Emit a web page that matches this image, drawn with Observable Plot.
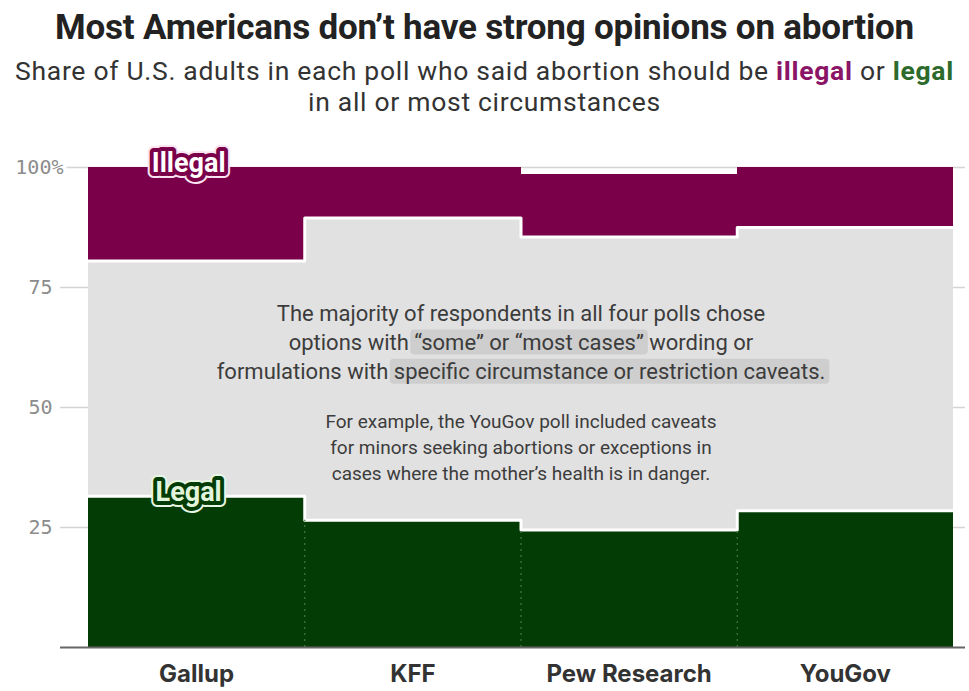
<!DOCTYPE html>
<html>
<head>
<meta charset="utf-8">
<script src="https://cdn.jsdelivr.net/npm/d3@7"></script>
<script src="https://cdn.jsdelivr.net/npm/@observablehq/plot@0.6"></script>
<style>
  body { margin: 0; background: #fff; font-family: Roboto, sans-serif; }
  #header { height: 120px; text-align: center; overflow: hidden; }
  #header h1 { margin: 0; padding-top: 6px; font-size: 35px; line-height: 44px; font-weight: 700; color: #222; letter-spacing: -0.2px; }
  #header .sub { margin: 0; padding-top: 5px; font-size: 26.5px; line-height: 31px; color: #333; letter-spacing: 0.7px; }
  #chart svg { display: block; }
</style>
</head>
<body>
<div id="header">
  <h1>Most Americans don’t have strong opinions on abortion</h1>
  <p class="sub">Share of U.S. adults in each poll who said abortion should be <b style="color:#8a1466">illegal</b> or <b style="color:#2d6b2d">legal</b><br>in all or most circumstances</p>
</div>
<div id="chart"></div>
<script>
// Poll results (percent of U.S. adults)
const polls = ["Gallup", "KFF", "Pew Research", "YouGov"];
const legal = [31.5, 26.5, 24.5, 28.5];      // legal in all or most circumstances
const illegal = [19.5, 10.5, 13, 12.5];      // illegal in all or most circumstances
const noAnswer = [0, 0, 1.5, 0];             // did not answer
const yTicks = [25, 50, 75, 100];

const noteMain = "The majority of respondents in all four polls chose\noptions with “some” or “most cases” wording or\nformulations with specific circumstance or restriction caveats.";
const noteMainMarks = ["“some” or “most cases”", "specific circumstance or restriction caveats."];
const noteExample = "For example, the YouGov poll included caveats\nfor minors seeking abortions or exceptions in\ncases where the mother’s health is in danger.";
const noteY = [64, 42];

const MAGENTA = "#7a0049";
const GREEN = "#033d05";
const GRAY = "#e1e1e1";

const rows = polls.map((poll, i) => ({
  poll,
  i0: i,
  i1: i + 1,
  legal: legal[i],
  top: 100 - noAnswer[i],
  illegalBottom: 100 - noAnswer[i] - illegal[i]
}));

// step outline along one boundary of the stacked columns
const steps = key => rows.flatMap(r => [{x: r.i0, y: r[key]}, {x: r.i1, y: r[key]}]);

const boundaries = rows.slice(1).map((r, k) => ({x: r.i0, y: Math.min(r.legal, rows[k].legal)}));

const chart = Plot.plot({
  width: 969,
  height: 571,
  marginTop: 47,
  marginBottom: 44,
  marginLeft: 60,
  marginRight: 4,
  style: {fontFamily: "Roboto, sans-serif", background: "white"},
  x: {domain: [-0.1295, 4.0555], axis: null},
  y: {domain: [0, 100], axis: null},
  marks: [
    Plot.ruleY(yTicks, {stroke: "#d4d4d4", strokeWidth: 1.5}),
    Plot.rectY(rows, {x1: "i0", x2: "i1", y1: 0, y2: "legal", fill: GREEN, shapeRendering: "crispEdges"}),
    Plot.rectY(rows, {x1: "i0", x2: "i1", y1: "legal", y2: "illegalBottom", fill: GRAY, shapeRendering: "crispEdges"}),
    Plot.rectY(rows, {x1: "i0", x2: "i1", y1: "illegalBottom", y2: "top", fill: MAGENTA, shapeRendering: "crispEdges"}),
    Plot.line(steps("legal"), {x: "x", y: "y", stroke: "white", strokeWidth: 3}),
    Plot.line(steps("illegalBottom"), {x: "x", y: "y", stroke: "white", strokeWidth: 3}),
    Plot.ruleX(boundaries, {x: "x", y1: 0, y2: "y", stroke: "#3f7a3f", strokeDasharray: "2,4", strokeWidth: 1.2}),
    Plot.ruleY([0], {stroke: "#666", strokeWidth: 2}),
    // y tick labels
    Plot.text(yTicks.filter(t => t < 100), {y: d => d, text: d => String(d), frameAnchor: "left", textAnchor: "end", dx: -8,
      fontFamily: "DejaVu Sans Mono", fontSize: 20, fill: "#8c8c8c"}),
    Plot.text(yTicks.filter(t => t === 100), {y: d => d, text: d => d + "%", frameAnchor: "left", textAnchor: "end", dx: 3,
      fontFamily: "DejaVu Sans Mono", fontSize: 20, fill: "#8c8c8c", stroke: "white", strokeWidth: 8, paintOrder: "stroke"}),
    // poll names
    Plot.text(rows, {x: d => d.i0 + 0.5, text: "poll", frameAnchor: "bottom", lineAnchor: "top", dy: 17,
      fontFamily: "Inter, Roboto, sans-serif", fontSize: 24, fontWeight: 700, fill: "#333"}),
    // series labels on the first column
    Plot.text([rows[0]], {x: d => d.i0 + 0.5, y: "top", text: () => "Illegal", dx: -8, dy: -4,
      fontSize: 27, fontWeight: 700, fill: "none", stroke: "#fbe3f2", strokeWidth: 12, strokeLinejoin: "round"}),
    Plot.text([rows[0]], {x: d => d.i0 + 0.5, y: "top", text: () => "Illegal", dx: -8, dy: -4,
      fontSize: 27, fontWeight: 700, fill: "white", stroke: MAGENTA, strokeWidth: 8, strokeLinejoin: "round", paintOrder: "stroke"}),
    Plot.text([rows[0]], {x: d => d.i0 + 0.5, y: "legal", text: () => "Legal", dx: -8, dy: -4,
      fontSize: 27, fontWeight: 700, fill: "none", stroke: "#e8f7e4", strokeWidth: 12, strokeLinejoin: "round"}),
    Plot.text([rows[0]], {x: d => d.i0 + 0.5, y: "legal", text: () => "Legal", dx: -8, dy: -4,
      fontSize: 27, fontWeight: 700, fill: "#e2f5dc", stroke: GREEN, strokeWidth: 8, strokeLinejoin: "round", paintOrder: "stroke"}),
    // annotation in the middle band
    Plot.text([noteMain], {x: polls.length / 2, y: noteY[0], text: d => d, lineHeight: 1.32,
      fontSize: 22, fill: "#3c3c3c", className: "note-main"}),
    Plot.text([noteExample], {x: polls.length / 2, y: noteY[1], text: d => d, lineHeight: 1.37,
      fontSize: 19, fill: "#3c3c3c"})
  ]
});

document.getElementById("chart").appendChild(chart);

// shade the key phrases of the annotation
chart.querySelectorAll("g.note-main text").forEach(t => {
  const full = t.textContent;
  for (const phrase of noteMainMarks) {
    const k = full.indexOf(phrase);
    if (k < 0) continue;
    const a = t.getExtentOfChar(k);
    const b = t.getExtentOfChar(k + phrase.length - 1);
    const r = document.createElementNS("http://www.w3.org/2000/svg", "rect");
    r.setAttribute("x", a.x - 4);
    r.setAttribute("y", a.y);
    r.setAttribute("width", b.x + b.width - a.x + 8);
    r.setAttribute("height", a.height);
    r.setAttribute("rx", 4);
    r.setAttribute("fill", "#cecece");
    if (t.getAttribute("transform")) r.setAttribute("transform", t.getAttribute("transform"));
    t.parentNode.insertBefore(r, t);
  }
});
</script>
</body>
</html>
